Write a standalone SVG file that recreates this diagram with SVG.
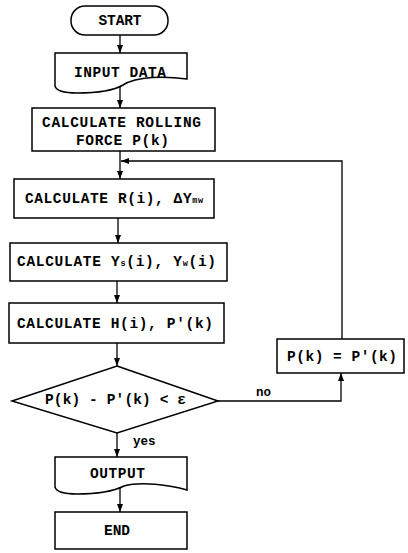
<svg xmlns="http://www.w3.org/2000/svg" width="408" height="553" viewBox="0 0 408 553">
<defs>
<marker id="ah" viewBox="0 0 8 8" refX="8" refY="4" markerWidth="8" markerHeight="8" markerUnits="userSpaceOnUse" orient="auto">
<path d="M0,1 L8,4 L0,7 Z" fill="#000"/>
</marker>
<style>
.s{fill:#fff;stroke:#000;stroke-width:1.5}
.c{fill:none;stroke:#000;stroke-width:1.3}
.t{font-family:"Liberation Mono","Courier New",monospace;font-weight:bold;font-size:14.5px;fill:#000}
.sub{font-size:8.5px}
.l{font-family:"Liberation Mono","Courier New",monospace;font-weight:bold;font-size:12.5px;fill:#000}
</style>
</defs>
<rect width="408" height="553" fill="#fff"/>
<g id="connectors">
<path class="c" d="M120,35 V53" marker-end="url(#ah)"/>
<path class="c" d="M120,87 V108" marker-end="url(#ah)"/>
<path class="c" d="M120,151 V179" marker-end="url(#ah)"/>
<path class="c" d="M342,339 V161 H121" marker-end="url(#ah)"/>
<path class="c" d="M118,218 V243" marker-end="url(#ah)"/>
<path class="c" d="M117,281 V303" marker-end="url(#ah)"/>
<path class="c" d="M117,343 V366" marker-end="url(#ah)"/>
<path class="c" d="M218,401 H341 V373" marker-end="url(#ah)"/>
<path class="c" d="M117,433 V457" marker-end="url(#ah)"/>
<path class="c" d="M120,487 V512" marker-end="url(#ah)"/>
<text class="l" x="256" y="396">no</text>
<text class="l" x="133" y="445">yes</text>
</g>
<g id="start">
<rect class="s" x="71" y="6" width="97" height="29" rx="14"/>
<text class="t" x="120" y="25" text-anchor="middle" textLength="43">START</text>
</g>
<g id="input">
<path class="s" d="M55,53 H187 V79 C165,76 137,76 123,85 C113,91 98,93 77,93 C63,93 56,90 55,86 Z"/>
<text class="t" x="74" y="77" textLength="92">INPUT DATA</text>
</g>
<g id="force">
<rect class="s" x="32" y="108" width="183" height="43"/>
<text class="t" x="42" y="127" textLength="159">CALCULATE ROLLING</text>
<text class="t" x="76" y="145" textLength="93">FORCE P(k)</text>
</g>
<g id="calcR">
<rect class="s" x="14" y="179" width="200" height="39"/>
<text class="t" x="25" y="203" textLength="178">CALCULATE R(i), ΔY<tspan class="sub">mw</tspan></text>
</g>
<g id="calcY">
<rect class="s" x="10" y="243" width="217" height="38"/>
<text class="t" x="17" y="266" textLength="199">CALCULATE Y<tspan class="sub">s</tspan>(i), Y<tspan class="sub">w</tspan>(i)</text>
</g>
<g id="calcH">
<rect class="s" x="9" y="303" width="215" height="40"/>
<text class="t" x="17" y="328" textLength="196">CALCULATE H(i), P'(k)</text>
</g>
<g id="decision">
<polygon class="s" points="117,366 218,401 117,433 12,401"/>
<text class="t" x="45" y="404" textLength="141">P(k) - P'(k) &lt; ε</text>
</g>
<g id="update">
<rect class="s" x="277" y="339" width="127" height="34"/>
<text class="t" x="287" y="361" textLength="110">P(k) = P'(k)</text>
</g>
<g id="output">
<path class="s" d="M55,457 H187 V490 C170,485 140,481 124,486 C114,491 98,494 77,494 C63,494 56,491 55,487 Z"/>
<text class="t" x="90" y="478" textLength="55">OUTPUT</text>
</g>
<g id="end">
<rect class="s" x="55" y="512" width="132" height="37"/>
<text class="t" x="104" y="535" textLength="26">END</text>
</g>
</svg>
